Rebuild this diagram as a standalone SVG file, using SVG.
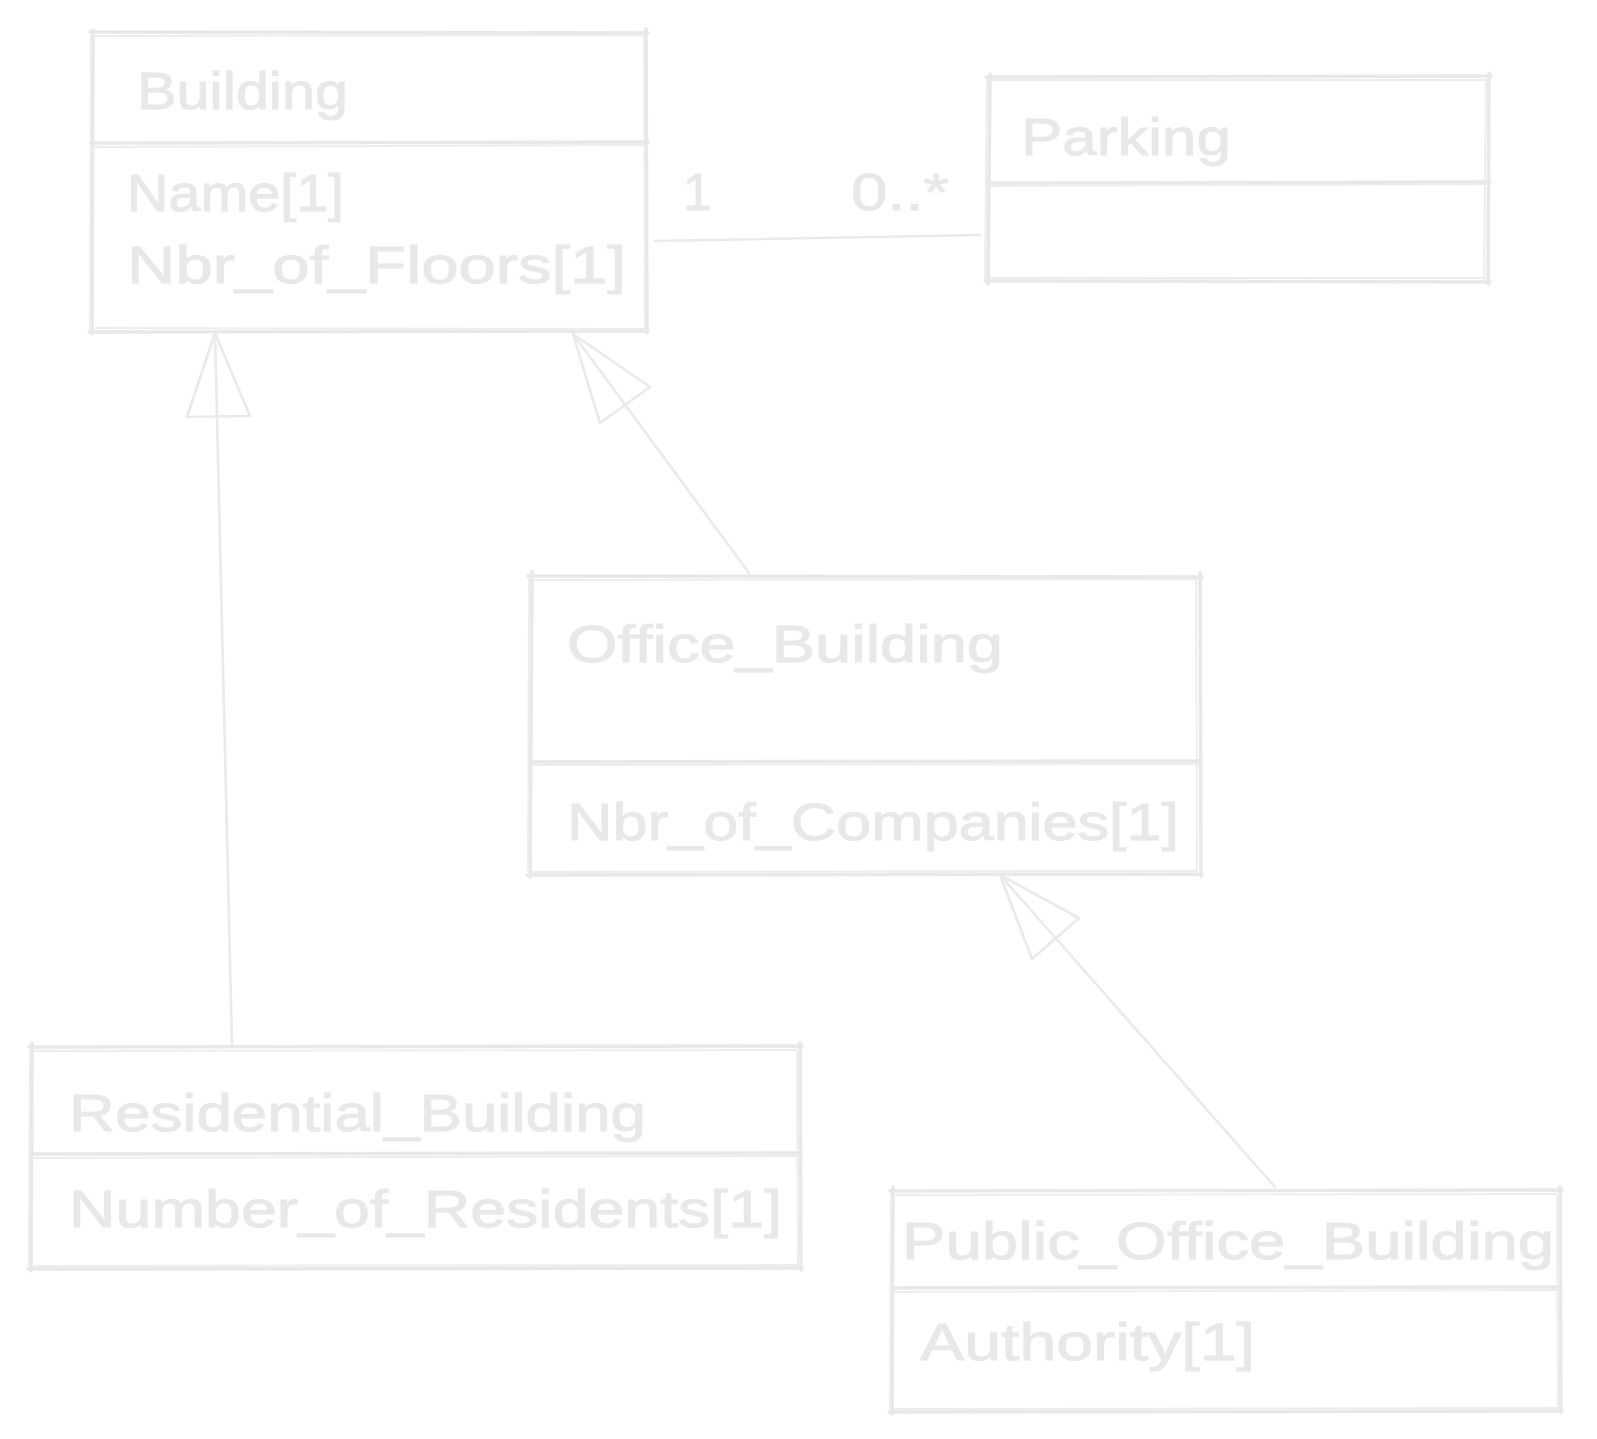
<svg xmlns="http://www.w3.org/2000/svg" width="1597" height="1439" viewBox="0 0 1597 1439">
<style>
.bg{fill:#ffffff}
.s1{fill:none;stroke:#e8e8e8;stroke-width:3.6;stroke-linecap:round;stroke-linejoin:round}
.s2{fill:none;stroke:#ececec;stroke-width:1.8;stroke-linecap:round;stroke-linejoin:round}
.c{fill:none;stroke:#eaeaea;stroke-width:2.6;stroke-linecap:round;stroke-linejoin:round}
.t{fill:#e8e8e8;stroke:#e8e8e8;stroke-width:1;font-family:"Liberation Sans",Arial,sans-serif;font-size:52px}
</style>
<rect class="bg" x="0" y="0" width="1597" height="1439"/>

<g id="connectors">
  <g id="assoc-building-parking">
    <path class="c" d="M655,241 L980,235"/>
    <text class="t" x="683" y="210">1</text>
    <text class="t" x="851" y="210" textLength="98" lengthAdjust="spacingAndGlyphs">0..*</text>
  </g>
  <g id="gen-residential-building">
    <path class="c" d="M232,1044 L215,333"/>
    <path class="c" d="M215,333 L187,417 L250,416 Z"/>
  </g>
  <g id="gen-office-building">
    <path class="c" d="M749,573 L573,334"/>
    <path class="c" d="M573,334 L600,423 L650,387 Z"/>
  </g>
  <g id="gen-public-office">
    <path class="c" d="M1275,1187 L1000,875"/>
    <path class="c" d="M1000,875 L1032,959 L1079,918 Z"/>
  </g>
</g>

<g id="building">
  <path class="s1" d="M90,32 L648,33 M646,29 L647,333 M648,331 L89,332 M92,334 L93,30"/>
  <path class="s2" d="M95,36 L643,35 M644,36 L645,329 M644,329 L95,328 M90,328 L91,36"/>
  <path class="s1" d="M91,143 L648,142"/>
  <path class="s2" d="M94,147 L645,145"/>
  <text class="t" x="137" y="109" textLength="211" lengthAdjust="spacingAndGlyphs">Building</text>
  <text class="t" x="127" y="211" textLength="217" lengthAdjust="spacingAndGlyphs">Name[1]</text>
  <text class="t" x="127" y="283" textLength="499" lengthAdjust="spacingAndGlyphs">Nbr_of_Floors[1]</text>
</g>

<g id="parking">
  <path class="s1" d="M986,77 L1491,76 M1489,73 L1488,284 M1490,282 L985,281 M988,284 L990,74"/>
  <path class="s2" d="M991,80 L1486,80 M1486,80 L1484,279 M1485,278 L992,278 M985,280 L987,79"/>
  <path class="s1" d="M987,183 L1490,182"/>
  <path class="s2" d="M990,186 L1487,184"/>
  <text class="t" x="1021" y="155" textLength="210" lengthAdjust="spacingAndGlyphs">Parking</text>
</g>

<g id="office-building">
  <path class="s1" d="M528,576 L1202,577 M1200,573 L1201,876 M1202,874 L527,875 M530,877 L532,572"/>
  <path class="s2" d="M534,580 L1197,579 M1196,580 L1197,871 M1197,871 L533,872 M528,870 L529,579"/>
  <path class="s1" d="M531,762 L1201,761"/>
  <path class="s2" d="M534,765 L1198,764"/>
  <text class="t" x="567" y="662" textLength="436" lengthAdjust="spacingAndGlyphs">Office_Building</text>
  <text class="t" x="567" y="840" textLength="612" lengthAdjust="spacingAndGlyphs">Nbr_of_Companies[1]</text>
</g>

<g id="residential-building">
  <path class="s1" d="M29,1047 L802,1046 M800,1043 L801,1270 M802,1268 L28,1269 M31,1271 L32,1043"/>
  <path class="s2" d="M35,1051 L797,1050 M797,1050 L798,1265 M797,1265 L34,1266 M29,1265 L30,1050"/>
  <path class="s1" d="M31,1154 L801,1153"/>
  <path class="s2" d="M34,1158 L798,1156"/>
  <text class="t" x="69" y="1131" textLength="577" lengthAdjust="spacingAndGlyphs">Residential_Building</text>
  <text class="t" x="69" y="1227" textLength="713" lengthAdjust="spacingAndGlyphs">Number_of_Residents[1]</text>
</g>

<g id="public-office-building">
  <path class="s1" d="M890,1191 L1562,1190 M1560,1187 L1561,1413 M1562,1411 L889,1412 M892,1414 L893,1187"/>
  <path class="s2" d="M896,1195 L1557,1194 M1557,1194 L1558,1408 M1557,1408 L895,1409 M890,1408 L891,1194"/>
  <path class="s1" d="M891,1288 L1561,1287"/>
  <path class="s2" d="M894,1292 L1558,1290"/>
  <text class="t" x="902" y="1259" textLength="652" lengthAdjust="spacingAndGlyphs">Public_Office_Building</text>
  <text class="t" x="920" y="1360" textLength="335" lengthAdjust="spacingAndGlyphs">Authority[1]</text>
</g>
</svg>
